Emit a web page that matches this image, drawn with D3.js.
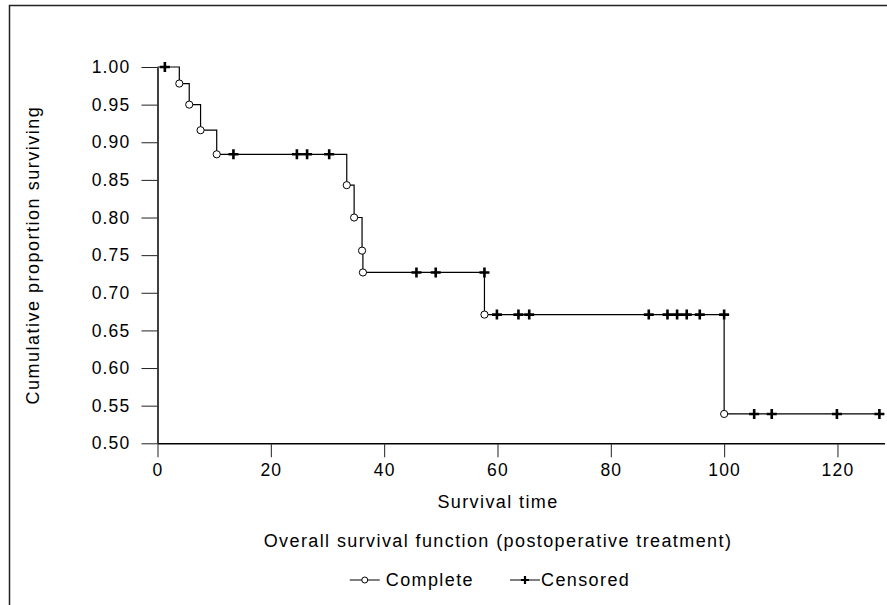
<!DOCTYPE html>
<html>
<head>
<meta charset="utf-8">
<script src="https://cdn.jsdelivr.net/npm/d3@7"></script>
<style>
  html, body { margin: 0; padding: 0; background: #fff; }
  svg { display: block; }
  text { font-family: "Liberation Sans", Arial, Helvetica, sans-serif; fill: #000; }
</style>
</head>
<body>
<svg id="chart" width="887" height="605"></svg>
<script>
// Kaplan-Meier estimate: event (death) times and the survival level after each drop
const eventTimes = [3.85, 5.6, 7.6, 10.45, 33.4, 34.7, 36.1, 36.25, 57.7, 100.0];
const eventSurvival = [0.978, 0.950, 0.916, 0.884, 0.843, 0.800, 0.756, 0.727, 0.671, 0.539];

// Censored observation times
const censorTimes = [1.3, 13.4, 24.6, 26.4, 30.3, 45.7, 49.1, 57.7, 59.9, 63.7, 65.6,
                     86.7, 90.0, 91.7, 93.4, 95.7, 100.0, 105.3, 108.4, 119.9, 127.4];

// Axis ticks
const xTicks = [0, 20, 40, 60, 80, 100, 120];
const yTicks = [0.50, 0.55, 0.60, 0.65, 0.70, 0.75, 0.80, 0.85, 0.90, 0.95, 1.00];

// Text
const xTitle = "Survival time";
const yTitle = "Cumulative proportion surviving";
const chartTitle = "Overall survival function (postoperative treatment)";
const legendLabels = ["Complete", "Censored"];

const svg = d3.select("#chart");

const x = d3.scaleLinear().domain([0, 128.3]).range([157.5, 884.5]);
const y = d3.scaleLinear().domain([0.5, 1.0]).range([443.3, 67]);

// frame lines (left and top)
svg.append("path")
  .attr("d", "M9.5,605V5.5H887")
  .attr("fill", "none")
  .attr("stroke", "#222")
  .attr("stroke-width", 1.5);

// y axis
const yAxis = svg.append("g")
  .attr("transform", `translate(${x(0)},0)`)
  .call(d3.axisLeft(y).tickValues(yTicks).tickFormat(d3.format(".2f"))
    .tickSize(16).tickSizeOuter(0).tickPadding(11));
yAxis.select(".domain").attr("stroke", "#000").attr("stroke-width", 1.5);
yAxis.selectAll(".tick line").attr("stroke", "#222").attr("stroke-width", 1);
yAxis.selectAll(".tick text")
  .attr("font-size", 17.5).attr("letter-spacing", "1.2px")
  .attr("font-family", "Liberation Sans, Arial, sans-serif").attr("fill", "#000");

// x axis
const xAxis = svg.append("g")
  .attr("transform", `translate(0,${y(0.5)})`)
  .call(d3.axisBottom(x).tickValues(xTicks).tickFormat(d3.format("d"))
    .tickSize(14).tickSizeOuter(0).tickPadding(6));
xAxis.select(".domain").attr("stroke", "#000").attr("stroke-width", 1.5);
xAxis.selectAll(".tick line").attr("stroke", "#222").attr("stroke-width", 1);
xAxis.selectAll(".tick text")
  .attr("font-size", 17.5).attr("letter-spacing", "1.2px")
  .attr("font-family", "Liberation Sans, Arial, sans-serif").attr("fill", "#000");

// survival step curve
const stepPoints = [[0, 1.0]]
  .concat(eventTimes.map((t, i) => [t, eventSurvival[i]]))
  .concat([[d3.max(censorTimes), eventSurvival[eventSurvival.length - 1]]]);

const line = d3.line()
  .x(d => x(d[0]))
  .y(d => y(d[1]))
  .curve(d3.curveStepAfter);

svg.append("path")
  .datum(stepPoints)
  .attr("d", line)
  .attr("fill", "none")
  .attr("stroke", "#000")
  .attr("stroke-width", 1.2);

// survival level just before time t (censoring at a death time sits on the upper step)
function levelAt(t) {
  let s = 1.0;
  eventTimes.forEach((et, i) => { if (et < t) s = eventSurvival[i]; });
  return s;
}

const plusPath = "M-5,0H5M0,-5V5";

// censor marks
svg.append("g").selectAll("path")
  .data(censorTimes)
  .join("path")
  .attr("transform", d => `translate(${x(d)},${y(levelAt(d))})`)
  .attr("d", plusPath)
  .attr("stroke", "#000")
  .attr("stroke-width", 2.6)
  .attr("fill", "none");

// complete (event) marks
svg.append("g").selectAll("circle")
  .data(eventTimes.map((t, i) => [t, eventSurvival[i]]))
  .join("circle")
  .attr("cx", d => x(d[0]))
  .attr("cy", d => y(d[1]))
  .attr("r", 3.6)
  .attr("fill", "#fff")
  .attr("stroke", "#000")
  .attr("stroke-width", 1);

const cx = 498;

// axis titles
svg.append("text")
  .attr("x", cx).attr("y", 508)
  .attr("text-anchor", "middle")
  .attr("font-size", 18).attr("letter-spacing", "1.4px")
  .text(xTitle);

svg.append("text")
  .attr("transform", `translate(39,${(y(1) + y(0.5)) / 2}) rotate(-90)`)
  .attr("text-anchor", "middle")
  .attr("font-size", 18).attr("letter-spacing", "1.5px")
  .text(yTitle);

svg.append("text")
  .attr("x", cx).attr("y", 547)
  .attr("text-anchor", "middle")
  .attr("font-size", 18).attr("letter-spacing", "1.4px")
  .text(chartTitle);

// legend
const legend = svg.append("g");
const legendY = 580;
const symW = 30;

const item1 = legend.append("g");
item1.append("line").attr("x1", 0).attr("x2", symW).attr("y1", 0).attr("y2", 0)
  .attr("stroke", "#000").attr("stroke-width", 1);
item1.append("circle").attr("cx", symW / 2).attr("cy", 0).attr("r", 3)
  .attr("fill", "#fff").attr("stroke", "#000").attr("stroke-width", 1);
const t1 = item1.append("text").attr("x", symW + 6).attr("y", 6)
  .attr("font-size", 18).attr("letter-spacing", "1.4px").text(legendLabels[0]);

const item2 = legend.append("g");
item2.append("line").attr("x1", 0).attr("x2", symW).attr("y1", 0).attr("y2", 0)
  .attr("stroke", "#000").attr("stroke-width", 1);
item2.append("path").attr("transform", `translate(${symW / 2},0)`)
  .attr("d", "M-4,0H4M0,-4V4").attr("stroke", "#000").attr("stroke-width", 2.2);
const t2 = item2.append("text").attr("x", symW + 1).attr("y", 6)
  .attr("font-size", 18).attr("letter-spacing", "1.4px").text(legendLabels[1]);

const w1 = symW + 6 + t1.node().getComputedTextLength();
const w2 = symW + 1 + t2.node().getComputedTextLength();
const gap = 36;
const total = w1 + gap + w2;
const lx = cx - 8 - total / 2;
item1.attr("transform", `translate(${lx},${legendY})`);
item2.attr("transform", `translate(${lx + w1 + gap},${legendY})`);
</script>
</body>
</html>
